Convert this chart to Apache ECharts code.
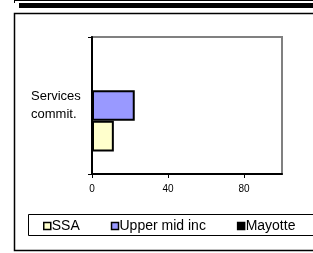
<!DOCTYPE html>
<html>
<head>
<meta charset="utf-8">
<script src="https://cdn.jsdelivr.net/npm/echarts@6/dist/echarts.min.js"></script>
<style>
  html, body { margin: 0; padding: 0; background: #fff; }
  #main { width: 313px; height: 253px; }
</style>
</head>
<body>
<div id="main"></div>
<script>
// data
var categories = ['Services\ncommit.'];
var seriesNames = ['SSA', 'Upper mid inc', 'Mayotte'];
var ssa = [11.5];
var upperMid = [22.5];
var mayotte = [0];
var seriesColors = ['#FFFFCC', '#9999FF', '#000000'];

var myChart = echarts.init(document.getElementById('main'));

var values = [ssa, upperMid, mayotte];
// echarts stacks horizontal bars top-down, so feed them in reverse
var series = [];
for (var i = seriesNames.length - 1; i >= 0; i--) {
  series.push({
    name: seriesNames[i],
    type: 'bar',
    data: values[i],
    barGap: 0,
    barCategoryGap: '33%',
    itemStyle: { color: seriesColors[i], borderColor: '#000', borderWidth: 2 }
  });
}

var option = {
  animation: false,
  backgroundColor: '#fff',
  textStyle: { fontFamily: 'Liberation Sans, Arial, sans-serif' },
  grid: {
    left: 92, top: 37, width: 190, height: 137,
    show: true, borderColor: '#808080', borderWidth: 2
  },
  xAxis: {
    type: 'value', min: 0, max: 100, interval: 40,
    axisLine: { show: true, lineStyle: { color: '#000', width: 2 } },
    axisTick: { show: true, length: 4, lineStyle: { color: '#000' } },
    axisLabel: { color: '#000', fontSize: 10, margin: 10, showMaxLabel: false },
    splitLine: { show: false }
  },
  yAxis: {
    type: 'category', data: categories,
    axisLine: { show: true, lineStyle: { color: '#000', width: 2 } },
    axisTick: { show: true, length: 4, lineStyle: { color: '#000' } },
    axisLabel: { color: '#000', fontSize: 13, lineHeight: 18, align: 'left', margin: 61 }
  },
  legend: {
    data: seriesNames,
    left: 38, top: 214,
    icon: 'rect', itemWidth: 7, itemHeight: 7, itemGap: 31,
    itemStyle: { borderColor: '#000', borderWidth: 1.5 },
    textStyle: { color: '#000', fontSize: 14, padding: [0, 0, 0, -4] }
  },
  graphic: [
    { type: 'line', shape: { x1: 14, y1: 0.5, x2: 313, y2: 0.5 }, style: { stroke: '#000', lineWidth: 1 } },
    { type: 'line', shape: { x1: 14.5, y1: 0, x2: 14.5, y2: 3 }, style: { stroke: '#000', lineWidth: 1 } },
    { type: 'rect', shape: { x: 19, y: 3, width: 300, height: 5 }, style: { fill: '#000' } },
    { type: 'rect', shape: { x: 14.5, y: 13.5, width: 310, height: 237 }, style: { fill: 'none', stroke: '#000', lineWidth: 1.5 } },
    { type: 'rect', shape: { x: 28.5, y: 214.5, width: 290, height: 21 }, style: { fill: 'none', stroke: '#000', lineWidth: 1 } }
  ],
  series: series
};

myChart.setOption(option);
</script>
</body>
</html>
